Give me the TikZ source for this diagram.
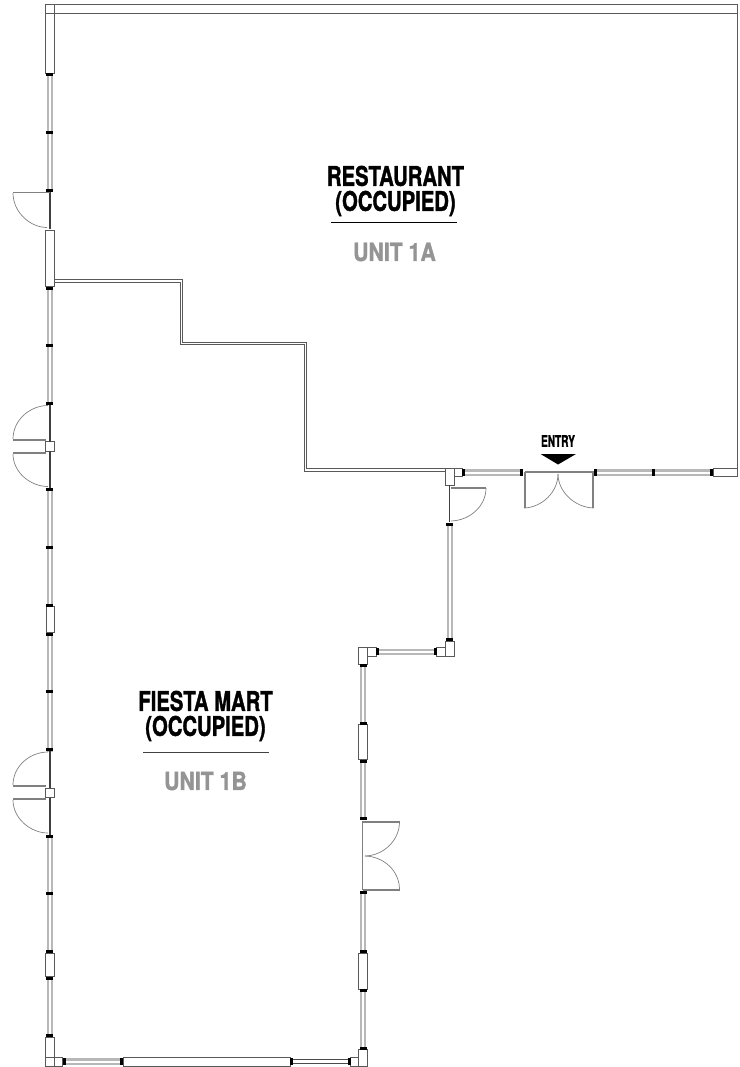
\documentclass[tikz,border=0pt]{standalone}
\usepackage{fontspec}
\setmainfont{TeX Gyre Heros}[BoldFeatures={FakeBold=1.6}]
\usepackage{tikz}
\tikzset{>=latex}
\definecolor{wallgray}{gray}{0.35}
\definecolor{glassgray}{gray}{0.72}
\definecolor{unitgray}{gray}{0.58}
\tikzset{
  pier/.style = {draw = wallgray, fill = white, line width = 0.9},
  partition/.style = {draw = wallgray, line width = 0.8},
  glazing/.style = {draw = glassgray, double = white, double distance = 2, line width = 2.2},
  glazingdark/.style = {draw = black!70, double = white, double distance = 2.2, line width = 1.4},
  doorpanel/.style = {draw = black!75, line width = 1.5},
  doorleaf/.style = {draw = gray, line width = 2},
  doorswing/.style = {draw = gray, line width = 0.7},
  roomname/.style = {font = \bfseries\fontsize{27}{25}\selectfont, align = center, xscale = 0.75, transform shape, inner sep = 0},
  unitname/.style = {font = \bfseries\fontsize{25}{24}\selectfont, text = unitgray, xscale = 0.85, transform shape, inner sep = 0}
}
\begin{document}
\begin{tikzpicture}[x = 1pt, y = -1pt]
\useasboundingbox (0, 0) rectangle (739, 1067);

\draw[glazing] (49.8, 73) -- (49.8, 192);
\draw[glazing] (49.8, 287) -- (49.8, 405);
\draw[glazing] (49.8, 488) -- (49.8, 752);
\draw[glazing] (49.8, 835) -- (49.8, 1037);
\draw[glazing] (363.2, 664) -- (363.2, 820);
\draw[glazing] (363.2, 891) -- (363.2, 1050);
\draw[glazing] (449.8, 523) -- (449.8, 641);
\draw[glazing] (376, 651.7) -- (437, 651.7);
\draw[glazing] (462, 472.5) -- (523, 472.5);
\draw[glazing] (594, 472.5) -- (713, 472.5);
\draw[glazing] (62, 1061.5) -- (123, 1061.5);
\draw[glazingdark] (290, 1061.5) -- (351, 1061.5);

\draw[partition] (54, 279.3) -- (182.7, 279.3) -- (182.7, 342.3) -- (306.7, 342.3) -- (306.7, 468.6) -- (446, 468.6);
\draw[partition] (54, 282.3) -- (180.3, 282.3) -- (180.3, 344.6) -- (304.3, 344.6) -- (304.3, 471) -- (446, 471);
\draw[draw = wallgray, line width = 0.7] (45.5, 4.5) rectangle (737, 13);
\draw[draw = wallgray, line width = 0.7] (737, 13) -- (737, 468);

\draw[pier] (45.5, 4.5) rectangle (54, 73);
\draw[draw = wallgray, line width = 0.7] (45.5, 13) -- (54, 13);
\draw[pier] (45.5, 230) rectangle (54, 286.5);
\draw[pier] (46, 606.5) rectangle (54, 632.5);
\draw[pier] (45.5, 953) rectangle (54, 976.5);
\draw[pier] (358.7, 724.5) rectangle (367.7, 759);
\draw[pier] (358.7, 953) rectangle (367.7, 989);
\draw[pier] (713, 468) rectangle (737, 476.5);

\draw[pier] (45.5, 1037) rectangle (54, 1066);
\draw[pier] (45.5, 1057.3) rectangle (62.7, 1066);
\draw[draw = wallgray, line width = 0.7] (54, 1057.3) -- (54, 1066);
\draw[pier] (123.3, 1057.3) rectangle (290, 1066);
\draw[pier] (350.5, 1057.3) rectangle (367.7, 1066);
\draw[pier] (358.7, 1049.5) rectangle (367.7, 1066);

\draw[pier] (358.3, 647.3) rectangle (376, 656);
\draw[pier] (358.3, 647.3) rectangle (367.5, 664);
\draw[pier] (436.7, 647.3) rectangle (454, 656);
\draw[pier] (445.3, 641) rectangle (454, 656);
\draw[pier] (445.3, 468.3) rectangle (462, 476.5);
\draw[pier] (445.3, 468.3) rectangle (454.3, 485);
\draw[pier] (45.5, 441.7) rectangle (54, 451);
\draw[pier] (45.5, 788) rectangle (54, 797.5);

\foreach \y in {75, 132.5, 190.5, 288, 345, 403.5, 489.5, 547.5, 605, 634.5, 691.5, 749.5, 836, 893.5, 951.5, 978, 1035.7}
  \fill (46.2, \y-1.5) rectangle +(7.2, 3);
\foreach \y in {665, 723, 761, 818, 892.7, 951.5, 990, 1048}
  \fill (359.7, \y-1.5) rectangle +(7.2, 3);
\fill (446, 522.5) rectangle +(7.2, 3);
\fill (446, 638) rectangle +(7.2, 3);
\foreach \x in {64, 121.7, 291.5, 349.5}
  \fill (\x-1.5, 1057.8) rectangle +(3, 7.4);
\foreach \x in {377.3, 435.3}
  \fill (\x-1.5, 648) rectangle +(3, 7.4);
\foreach \x in {463, 521.7, 595, 653.3, 711}
  \fill (\x-1.5, 469) rectangle +(3, 7);

\draw[doorpanel] (50, 192) -- (50, 229);
\draw[doorleaf, line width = 1] (13, 193) -- (50, 193);
\draw[doorswing] (13, 193) .. controls (13, 212) and (30, 227.5) .. (47, 227.5);

\draw[doorpanel] (50, 405) -- (50, 441.7);
\draw[doorpanel] (50, 451) -- (50, 488);
\draw[doorleaf] (13, 440) -- (46, 440);
\draw[doorleaf] (13, 453) -- (46, 453);
\draw[doorswing] (13, 439) .. controls (13, 420) and (30, 405.5) .. (48, 405.5);
\draw[doorswing] (13, 454) .. controls (13, 472) and (30, 486.5) .. (48, 486.5);

\draw[doorpanel] (50, 751) -- (50, 788);
\draw[doorpanel] (50, 797.5) -- (50, 834.5);
\draw[doorleaf] (13, 786) -- (46, 786);
\draw[doorleaf] (13, 799) -- (46, 799);
\draw[doorswing] (13, 785) .. controls (13, 766) and (30, 752) .. (48, 752);
\draw[doorswing] (13, 800) .. controls (13, 818) and (30, 833) .. (48, 833);

\draw[doorpanel] (449.3, 485) -- (449.3, 522);
\draw[doorleaf] (451, 488) -- (486, 488);
\draw[doorswing] (486, 488) .. controls (486, 506) and (470, 520.5) .. (451, 521);

\draw[doorleaf, line width = 1.4] (525, 472) -- (594, 472);
\draw[doorleaf] (525, 472) -- (525, 508);
\draw[doorleaf] (592.7, 472) -- (592.7, 508);
\draw[doorswing] (524, 508) .. controls (542, 507.5) and (558, 492) .. (558, 474);
\draw[doorswing] (593.5, 508) .. controls (575, 507.5) and (558, 492) .. (558, 474);

\draw[doorleaf, line width = 1.4] (362.7, 821) -- (362.7, 890);
\draw[doorleaf] (362.7, 822) -- (399.5, 822);
\draw[doorleaf] (362.7, 889.5) -- (399.5, 889.5);
\draw[doorswing] (399.5, 822) .. controls (399.5, 840) and (384, 855.5) .. (365, 856);
\draw[doorswing] (399.5, 889.5) .. controls (399.5, 871) and (384, 856.5) .. (365, 856);

\fill (540.5, 454) -- (576, 454) -- (558, 464.5) -- cycle;
\node[font = \bfseries\fontsize{16}{16}\selectfont, xscale = 0.63, transform shape, inner sep = 0] (entry) at (558, 441) {ENTRY};

\node[roomname] (restaurant) at (395.5, 191) {RESTAURANT\\(OCCUPIED)};
\draw[line width = 1] (331, 222.7) -- (457, 222.7);
\node[unitname] (unita) at (394.5, 252) {UNIT 1A};

\node[roomname] (fiesta) at (205.5, 716) {FIESTA MART\\(OCCUPIED)};
\draw[draw = black!75, line width = 1] (143, 752.5) -- (269, 752.5);
\node[unitname] (unitb) at (205.5, 781) {UNIT 1B};
\end{tikzpicture}
\end{document}
